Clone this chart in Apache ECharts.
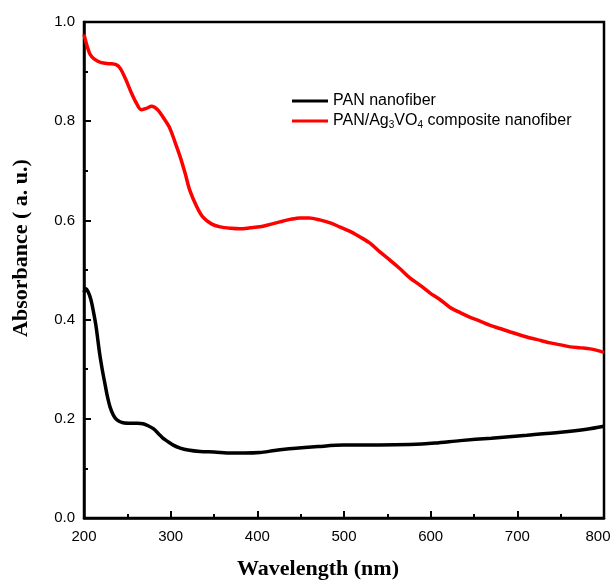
<!DOCTYPE html>
<html>
<head>
<meta charset="utf-8">
<script src="https://cdn.jsdelivr.net/npm/echarts@6/dist/echarts.min.js"></script>
<style>html,body{margin:0;padding:0;background:#fff;}#c{width:614px;height:581px;}</style>
</head>
<body>
<div id="c"></div>
<script>
const xTicks = [200, 300, 400, 500, 600, 700, 800];
const yTicks = [0.0, 0.2, 0.4, 0.6, 0.8, 1.0];

const seriesNames = ['PAN nanofiber', 'PAN/Ag3VO4 composite nanofiber'];

const panWl = [200,202,205,208,211,214,218,221,224,227,230,234,238,245,255,262,268,274,280,286,291,296,303,311,320,334,350,370,385,403,420,441,470,499,540,576,605,634,670,711,750,780,800];
const panAbs = [0.455,0.462,0.455,0.440,0.415,0.385,0.332,0.300,0.272,0.245,0.224,0.207,0.198,0.192,0.191,0.191,0.190,0.186,0.180,0.170,0.161,0.155,0.147,0.141,0.137,0.134,0.133,0.131,0.131,0.132,0.136,0.140,0.144,0.147,0.147,0.148,0.151,0.156,0.161,0.167,0.173,0.179,0.185];

const compWl = [200,203,207,212,220,230,237,242,248,254,260,266,272,278,285,292,299,305,311,317,322,330,337,347,357,370,380,392,403,415,426,438,449,460,472,484,495,507,518,530,541,553,565,576,588,599,611,622,634,645,657,668,680,692,703,715,727,738,750,761,773,784,792,800];
const compAbs = [0.975,0.955,0.935,0.925,0.918,0.916,0.914,0.906,0.885,0.860,0.838,0.823,0.826,0.830,0.823,0.806,0.786,0.758,0.728,0.693,0.661,0.628,0.607,0.593,0.587,0.584,0.583,0.585,0.587,0.592,0.597,0.602,0.605,0.605,0.601,0.595,0.587,0.578,0.567,0.554,0.537,0.520,0.502,0.484,0.469,0.454,0.440,0.425,0.414,0.405,0.397,0.389,0.382,0.375,0.369,0.363,0.358,0.353,0.349,0.345,0.343,0.341,0.338,0.334];

const zip = (a, b) => a.map((v, i) => [v, b[i]]);

const chart = echarts.init(document.getElementById('c'), null, {renderer: 'canvas'});
const sans = "'Liberation Sans', Arial, sans-serif";
const serif = "'Liberation Serif', 'Times New Roman', serif";

chart.setOption({
  animation: false,
  backgroundColor: '#fff',
  grid: {left: 84, right: 10, top: 22, bottom: 63, containLabel: false, outerBoundsMode: 'none',
         show: true, borderColor: '#000', borderWidth: 2.5, backgroundColor: 'transparent'},
  legend: {
    orient: 'vertical', left: 287, top: 88, itemGap: 4,
    icon: 'rect', itemWidth: 36, itemHeight: 3,
    data: seriesNames,
    textStyle: {fontFamily: sans, fontSize: 16, color: '#000',
      rich: {
        a: {fontFamily: sans, fontSize: 16, color: '#000'},
        s: {fontFamily: sans, fontSize: 10, color: '#000', padding: [9, 0, 0, 0]}
      }
    },
    formatter: function (n) {
      if (n === seriesNames[1]) return '{a|PAN/Ag}{s|3}{a|VO}{s|4}{a| composite nanofiber}';
      return n;
    }
  },
  xAxis: {
    type: 'value', min: xTicks[0], max: xTicks[xTicks.length - 1], interval: 100,
    name: 'Wavelength (nm)', nameLocation: 'middle', nameGap: 40,
    nameTextStyle: {fontFamily: serif, fontWeight: 'bold', fontSize: 22, color: '#000', padding: [0, 52, 0, 0]},
    axisLine: {show: true, lineStyle: {color: '#000', width: 2.5}},
    axisTick: {show: true, inside: true, length: 7, lineStyle: {color: '#000', width: 2}},
    minorTick: {show: true, splitNumber: 2, length: 4, lineStyle: {color: '#000', width: 2}},
    axisLabel: {fontFamily: sans, fontSize: 15, color: '#000', margin: 11,
      formatter: v => (v === xTicks[xTicks.length - 1] ? '{r|' + v + '}' : String(v)),
      rich: {r: {fontFamily: sans, fontSize: 15, color: '#000', padding: [0, 12, 0, 0]}}
    },
    splitLine: {show: false}
  },
  yAxis: {
    type: 'value', min: yTicks[0], max: yTicks[yTicks.length - 1], interval: 0.2,
    name: 'Absorbance ( a. u.)', nameLocation: 'middle', nameGap: 52,
    nameTextStyle: {fontFamily: serif, fontWeight: 'bold', fontSize: 22, color: '#000', padding: [0, 0, 0, 44]},
    axisLine: {show: true, lineStyle: {color: '#000', width: 2.5}},
    axisTick: {show: true, inside: true, length: 7, lineStyle: {color: '#000', width: 2}},
    minorTick: {show: true, splitNumber: 2, length: 4, lineStyle: {color: '#000', width: 2}},
    axisLabel: {fontFamily: sans, fontSize: 15, color: '#000', margin: 9, formatter: v => v.toFixed(1)},
    splitLine: {show: false}
  },
  series: [
    {name: seriesNames[0], type: 'line', data: zip(panWl, panAbs), showSymbol: false, symbol: 'none', smooth: 0.3,
     lineStyle: {color: '#000', width: 3.5}, itemStyle: {color: '#000'}},
    {name: seriesNames[1], type: 'line', data: zip(compWl, compAbs), showSymbol: false, symbol: 'none', smooth: 0.3,
     lineStyle: {color: '#ff0000', width: 3.5}, itemStyle: {color: '#ff0000'}}
  ]
});
</script>
</body>
</html>
